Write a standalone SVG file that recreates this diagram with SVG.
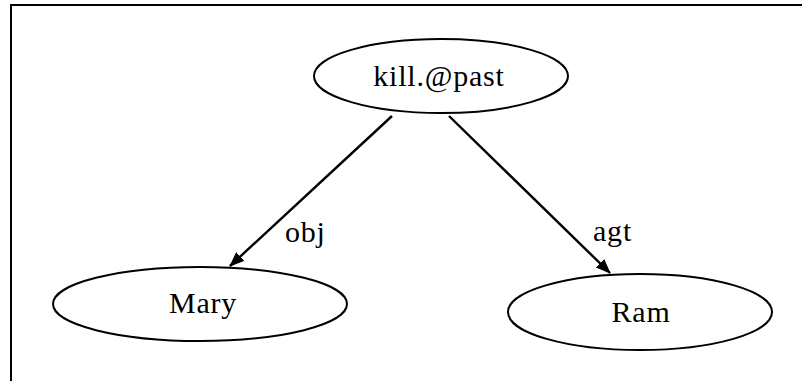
<svg xmlns="http://www.w3.org/2000/svg" width="802" height="381" viewBox="0 0 802 381">
  <style>
    .node ellipse { fill: #ffffff; stroke: #000000; stroke-width: 2; }
    .node text, .label { font-family: "Liberation Serif", "Times New Roman", serif; font-size: 30px; letter-spacing: 0.8px; fill: #000000; }
    .node text { text-anchor: middle; }
    .edge { stroke: #000000; stroke-width: 2.4; fill: none; marker-end: url(#arrow); }
    .frame { stroke: #000000; stroke-width: 2; fill: none; }
  </style>
  <defs>
    <marker id="arrow" markerWidth="15" markerHeight="12" refX="14" refY="6" orient="auto" markerUnits="userSpaceOnUse">
      <path d="M0,0 L15,6 L0,12 Z" fill="#000000"/>
    </marker>
  </defs>
  <rect width="802" height="381" fill="#ffffff"/>
  <!-- open frame: top and left edges -->
  <path class="frame" d="M11,381 L11,5 L802,5"/>

  <g id="connectors">
    <line class="edge" x1="392" y1="116" x2="230" y2="266"/>
    <text class="label" x="285" y="242">obj</text>
    <line class="edge" x1="449" y1="116" x2="610" y2="273"/>
    <text class="label" x="593" y="241">agt</text>
  </g>

  <g id="node-kill" class="node">
    <ellipse cx="441" cy="76" rx="127" ry="37"/>
    <text x="439" y="86">kill.@past</text>
  </g>
  <g id="node-mary" class="node">
    <ellipse cx="200" cy="304" rx="147" ry="37"/>
    <text x="203" y="313">Mary</text>
  </g>
  <g id="node-ram" class="node">
    <ellipse cx="640" cy="312" rx="132" ry="38"/>
    <text x="641" y="322">Ram</text>
  </g>
</svg>
